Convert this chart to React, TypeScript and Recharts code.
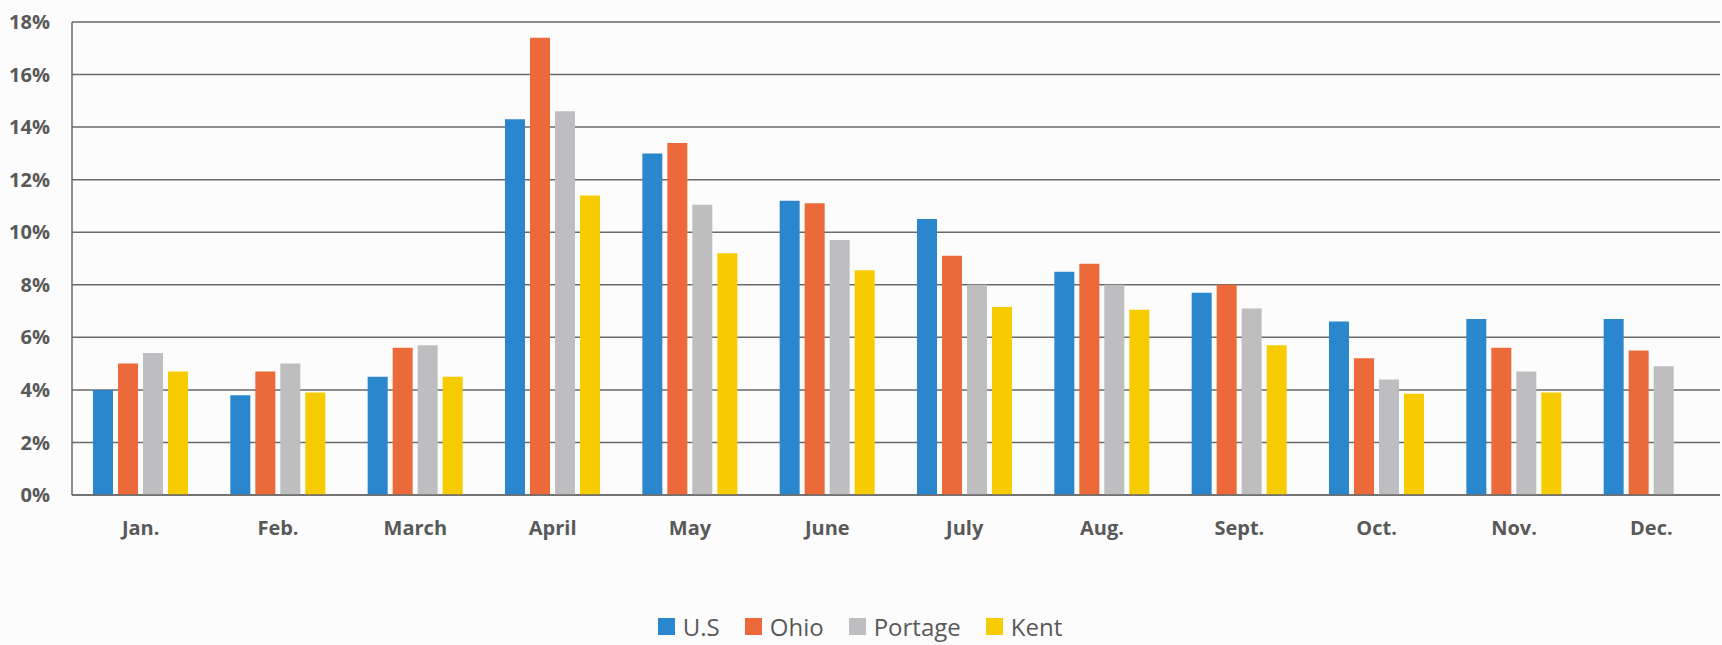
import { BarChart, Bar, XAxis, YAxis, CartesianGrid, Legend } from 'recharts';

// Monthly rates (%)
const MONTHS = ['Jan.', 'Feb.', 'March', 'April', 'May', 'June', 'July', 'Aug.', 'Sept.', 'Oct.', 'Nov.', 'Dec.'];
const US = [4.0, 3.8, 4.5, 14.3, 13.0, 11.2, 10.5, 8.5, 7.7, 6.6, 6.7, 6.7];
const OHIO = [5.0, 4.7, 5.6, 17.4, 13.4, 11.1, 9.1, 8.8, 8.0, 5.2, 5.6, 5.5];
const PORTAGE = [5.4, 5.0, 5.7, 14.6, 11.05, 9.7, 8.0, 8.0, 7.1, 4.4, 4.7, 4.9];
const KENT = [4.7, 3.9, 4.5, 11.4, 9.2, 8.55, 7.15, 7.05, 5.7, 3.85, 3.9, null];
const Y_TICKS = [0, 2, 4, 6, 8, 10, 12, 14, 16, 18];

const SERIES = [
  { key: 'us', name: 'U.S', color: '#2B87CD' },
  { key: 'ohio', name: 'Ohio', color: '#EC6A3A' },
  { key: 'portage', name: 'Portage', color: '#BEBEC0' },
  { key: 'kent', name: 'Kent', color: '#F6CC00' },
];

const data = MONTHS.map((month, i) => ({
  month,
  us: US[i],
  ohio: OHIO[i],
  portage: PORTAGE[i],
  kent: KENT[i],
}));

const FONT = '"Open Sans", Lato, sans-serif';
const TEXT = '#595959';
const LINE = '#6a6a6a';

function LegendContent() {
  return (
    <div style={{ display: 'flex', justifyContent: 'center', alignItems: 'center', fontFamily: FONT, fontSize: 24, color: TEXT, height: 30 }}>
      {SERIES.map((s, i) => (
        <div key={s.key} style={{ display: 'flex', alignItems: 'center', marginLeft: i === 0 ? 0 : 25 }}>
          <span style={{ display: 'inline-block', width: 17, height: 17, background: s.color, marginRight: 8 }} />
          <span>{s.name}</span>
        </div>
      ))}
    </div>
  );
}

export default function App() {
  return (
    <div style={{ position: 'absolute', left: 0, top: 0, width: 1722, height: 645, background: '#fcfcfc' }}>
      <BarChart
        width={1722}
        height={645}
        data={data}
        margin={{ top: 22, right: 2, left: 0, bottom: 4 }}
        barGap={5}
        barSize={20}
      >
        <CartesianGrid vertical={false} stroke={LINE} strokeWidth={1.5} yAxisId="left" />
        <XAxis
          dataKey="month"
          height={116}
          axisLine={{ stroke: LINE, strokeWidth: 1.5 }}
          tickLine={false}
          tickMargin={20}
          tick={{ fill: TEXT, fontSize: 20, fontWeight: 700, fontFamily: FONT }}
          interval={0}
        />
        <YAxis
          yAxisId="left"
          width={72}
          domain={[0, 18]}
          ticks={Y_TICKS}
          interval={0}
          tickFormatter={(v) => `${v}%`}
          axisLine={{ stroke: LINE, strokeWidth: 1.5 }}
          tickLine={false}
          tickMargin={16}
          tick={{ fill: TEXT, fontSize: 20, fontWeight: 700, fontFamily: FONT }}
        />
        <YAxis
          yAxisId="right"
          orientation="right"
          width={0}
          domain={[0, 18]}
          tick={false}
          tickLine={false}
          axisLine={{ stroke: LINE, strokeWidth: 1.5 }}
        />
        <Legend verticalAlign="bottom" height={30} content={<LegendContent />} />
        {SERIES.map((s) => (
          <Bar
            key={s.key}
            yAxisId="left"
            dataKey={s.key}
            name={s.name}
            fill={s.color}
            isAnimationActive={false}
          />
        ))}
      </BarChart>
    </div>
  );
}
